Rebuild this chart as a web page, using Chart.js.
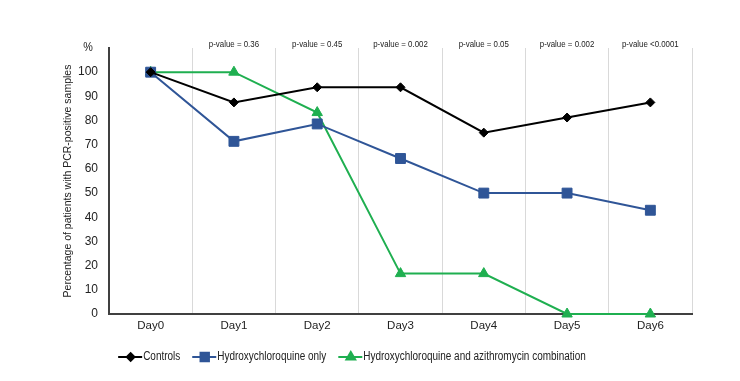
<!DOCTYPE html>
<html><head><meta charset="utf-8">
<script src="https://cdn.jsdelivr.net/npm/chart.js@4.4.1/dist/chart.umd.min.js"></script>
<style>html,body{margin:0;padding:0;background:#fff;}#wrap{width:740px;height:381px;}</style>
</head><body><div id="wrap"><canvas id="c" width="740" height="381"></canvas></div>
<script>
const days = ['Day0','Day1','Day2','Day3','Day4','Day5','Day6'];
const controls = [100, 87.5, 93.75, 93.75, 75, 81.25, 87.5];
const hcqOnly = [100, 71.4, 78.6, 64.3, 50, 50, 42.9];
const hcqAzi = [100, 100, 83.3, 16.7, 16.7, 0, 0];
const pValues = ['', 'p-value = 0.36', 'p-value = 0.45', 'p-value = 0.002', 'p-value = 0.05', 'p-value = 0.002', 'p-value <0.0001'];
const seriesNames = ['Controls', 'Hydroxychloroquine only', 'Hydroxychloroquine and azithromycin combination'];

const FONT = '"Liberation Sans", Arial, sans-serif';
const colors = ['#000000', '#2F5597', '#1FAF50'];
const styles = ['rectRot', 'rect', 'triangle'];
const radii = [4.5, 7, 6];
const SQ = 0.83; // horizontal squeeze to mimic narrow font

function narrowText(ctx, text, x, y, align) {
  const w = ctx.measureText(text).width * SQ;
  let left = x;
  if (align === 'center') left = x - w / 2;
  else if (align === 'right') left = x - w;
  ctx.save();
  ctx.translate(left, y);
  ctx.scale(SQ, 1);
  ctx.textAlign = 'left';
  ctx.fillText(text, 0, 0);
  ctx.restore();
  return w;
}

const extras = {
  id: 'extras',
  afterDraw(chart) {
    const ctx = chart.ctx;
    const x = chart.scales.x;
    ctx.save();
    ctx.fillStyle = '#222';
    ctx.textBaseline = 'middle';
    ctx.font = '9.5px ' + FONT;
    pValues.forEach((p, i) => { if (p) narrowText(ctx, p, x.getPixelForValue(i), 44, 'center'); });
    ctx.font = '13px ' + FONT;
    narrowText(ctx, '%', 88, 47, 'center');
    // legend
    ctx.font = '12px ' + FONT;
    const lineW = 25, gap = 12;
    const widths = seriesNames.map(n => lineW + ctx.measureText(n).width * SQ);
    const total = widths.reduce((a, b) => a + b, 0) + gap * (widths.length - 1);
    let lx = 352 - total / 2;
    const ly = 357;
    seriesNames.forEach((n, i) => {
      ctx.strokeStyle = colors[i];
      ctx.lineWidth = 2;
      ctx.beginPath(); ctx.moveTo(lx, ly); ctx.lineTo(lx + lineW - 1, ly); ctx.stroke();
      Chart.helpers.drawPoint(ctx, { pointStyle: styles[i], radius: radii[i] * 0.85, borderWidth: 1 }, lx + lineW / 2, ly);
      ctx.fillStyle = colors[i];
      ctx.fill();
      ctx.fillStyle = '#222';
      narrowText(ctx, n, lx + lineW, ly, 'left');
      lx += widths[i] + gap;
    });
    ctx.restore();
  }
};

const datasets = [controls, hcqOnly, hcqAzi].map((d, i) => ({
  label: seriesNames[i],
  data: d,
  borderColor: colors[i],
  backgroundColor: colors[i],
  borderWidth: 2,
  pointStyle: styles[i],
  pointRadius: radii[i],
  pointHoverRadius: radii[i],
  pointBorderWidth: 1,
  tension: 0,
  clip: false
}));

new Chart(document.getElementById('c'), {
  type: 'line',
  data: { labels: days, datasets },
  options: {
    responsive: false,
    animation: false,
    layout: { padding: { left: 0, right: 48, top: 48, bottom: 0 } },
    plugins: { legend: { display: false }, tooltip: { enabled: false } },
    scales: {
      x: {
        offset: true,
        grid: { display: true, offset: true, color: '#d9d9d9', lineWidth: 1, drawTicks: false },
        border: { display: true, color: '#404040', width: 2 },
        ticks: { color: '#222', font: { family: FONT, size: 11.5 }, padding: 5 },
        afterFit(s) { s.height = 67; }
      },
      y: {
        min: 0, max: 110,
        grid: { display: false, drawTicks: false },
        border: { display: true, color: '#404040', width: 2 },
        ticks: {
          stepSize: 10, color: '#222', padding: 11,
          font: { family: FONT, size: 12 },
          callback: v => v > 100 ? '' : v
        },
        title: { display: true, text: 'Percentage of patients with PCR-positive samples', color: '#222', font: { family: FONT, size: 10.5 }, padding: { top: 62, bottom: 0 } },
        afterFit(s) { s.width = 109; }
      }
    }
  },
  plugins: [extras]
});
</script></body></html>
